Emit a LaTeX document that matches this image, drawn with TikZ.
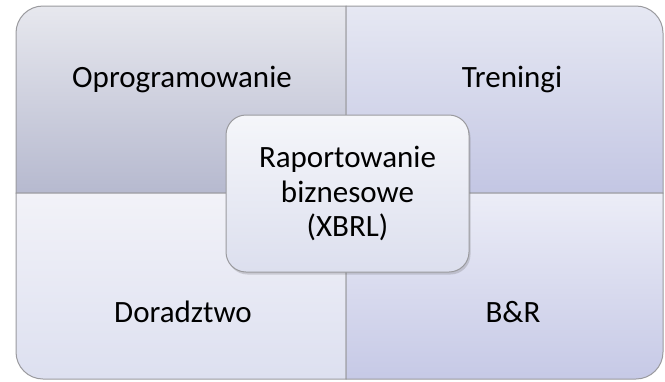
\documentclass[tikz,border=0pt]{standalone}
\usepackage{fontspec}
\setmainfont{Carlito}
\usetikzlibrary{shadows}
\definecolor{tlTop}{HTML}{E7E8EE}
\definecolor{tlBot}{HTML}{B6B9CF}
\definecolor{trTop}{HTML}{E6E8F3}
\definecolor{trBot}{HTML}{C3C6E3}
\definecolor{blTop}{HTML}{F2F2F8}
\definecolor{blBot}{HTML}{DDE0F0}
\definecolor{brTop}{HTML}{ECEDF7}
\definecolor{brBot}{HTML}{C6C9E6}
\definecolor{cTop}{HTML}{F5F6FA}
\definecolor{cBot}{HTML}{DCDFEE}
\definecolor{edge}{HTML}{9A9A9E}
\tikzset{
  quad/.style={draw=edge, line width=1pt},
  lbl/.style={font=\fontsize{31}{36}\selectfont, text=black, inner sep=0pt},
  centerbox/.style={draw=edge, line width=1pt, rounded corners=20pt, top color=cTop, bottom color=cBot,
    minimum width=243pt, minimum height=157pt, align=center, inner sep=0pt,
    font=\fontsize{31}{34.5}\selectfont,
    drop shadow={shadow xshift=1.5pt, shadow yshift=-2.5pt, opacity=0.25, fill=black!60}},
}
\begin{document}
\begin{tikzpicture}[x=1pt,y=-1pt]
\useasboundingbox (0,0) rectangle (665,381);
% quadrants
\path[quad, top color=tlTop, bottom color=tlBot]
  (16,193) [rounded corners=27pt] -- (16,6) [sharp corners] -- (346,6) -- (346,193) -- cycle;
\path[quad, top color=trTop, bottom color=trBot]
  (346,193) -- (346,6) [rounded corners=27pt] -- (663,6) [sharp corners] -- (663,193) -- cycle;
\path[quad, top color=blTop, bottom color=blBot]
  (16,193) -- (346,193) -- (346,379) [rounded corners=27pt] -- (16,379) [sharp corners] -- cycle;
\path[quad, top color=brTop, bottom color=brBot]
  (346,193) -- (663,193) [rounded corners=27pt] -- (663,379) [sharp corners] -- (346,379) -- cycle;
% labels
\node[lbl] (opr) at (182,79) {Oprogramowanie};
\node[lbl] (tre) at (512,79) {Treningi};
\node[lbl] (dor) at (183,312) {Doradztwo};
\node[lbl] (br) at (513,312) {B\&R};
% center
\node[centerbox] (center) at (347.5,193.5) {Raportowanie\\biznesowe\\(XBRL)};
\end{tikzpicture}
\end{document}
